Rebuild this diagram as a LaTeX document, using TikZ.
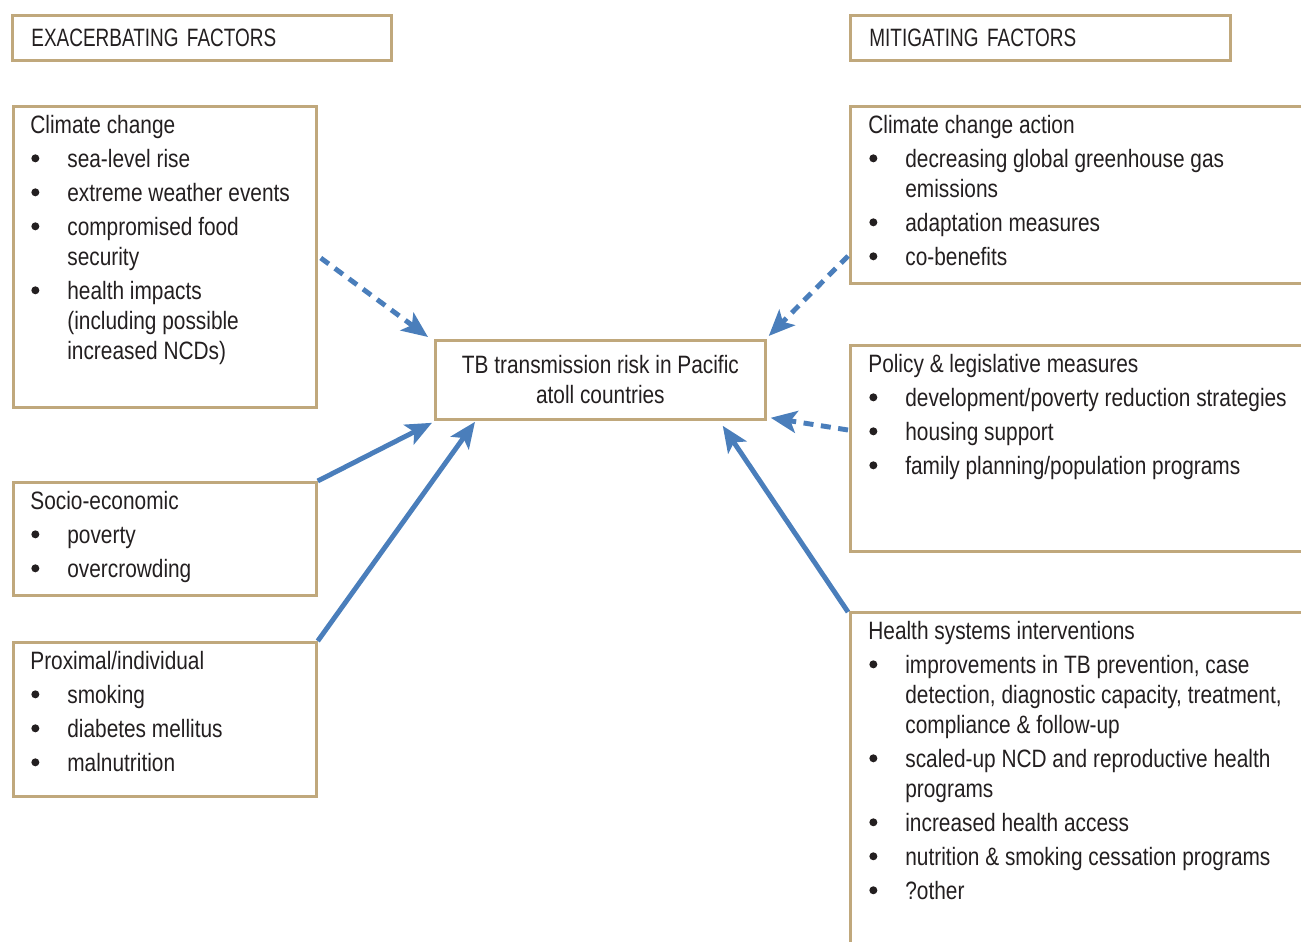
\documentclass[tikz,border=0pt]{standalone}
\usepackage{fontspec}
\setmainfont{Liberation Sans}[FakeStretch=0.83]
\newfontfamily\headfont{Liberation Sans}[FakeStretch=0.755]
\usetikzlibrary{arrows.meta}

\definecolor{boxtan}{RGB}{192,168,124}
\definecolor{arrowblue}{RGB}{74,126,187}
\definecolor{inkgray}{RGB}{35,31,32}

\newcommand{\bdot}{\raisebox{0.1cm}{\tikz\fill[inkgray] (0,0) circle (0.08cm);}}
\newcommand{\itm}{\par\vspace{0.08cm}\noindent\hangindent=0.74cm\hangafter=1\makebox[0.74cm][l]{\hspace{0.02cm}\bdot}}
\newcommand{\boxhead}[1]{\rule{0pt}{0.58cm}#1}

\tikzset{
  factor/.style={draw=boxtan, line width=1.6pt, anchor=north west, inner sep=0pt, text=inkgray,
    font=\fontsize{14.3}{17.07}\selectfont},
  facttext/.style={anchor=north west, inner sep=0pt, text=inkgray,
    font=\fontsize{14.3}{17.07}\selectfont},
  driver/.style={draw=arrowblue, line width=2.8pt, -{Stealth[length=0.52cm,width=0.44cm,inset=0.12cm]}},
  weak/.style={driver, dash pattern=on 0.2cm off 0.15cm}
}

\begin{document}
\begin{tikzpicture}[x=0.02cm, y=-0.02cm]
    \useasboundingbox (0,0) rectangle (1301,942);
    \clip (0,0) rectangle (1301,942);

    % headers
    \node[factor, minimum width=7.58cm, minimum height=0.9cm, text width=6.82cm, inner xsep=0.38cm, align=left, font=\headfont\fontsize{14.3}{17.07}\selectfont] (exac) at (11,14) {EXACERBATING FACTORS};
    \node[factor, minimum width=7.6cm, minimum height=0.9cm, text width=6.84cm, inner xsep=0.38cm, align=left, font=\headfont\fontsize{14.3}{17.07}\selectfont] (miti) at (849,14) {MITIGATING FACTORS};

    % centre
    \node[factor, minimum width=6.6cm, minimum height=1.58cm, align=center] (risk) at (434,339) {TB transmission risk in Pacific\\atoll countries};

    % exacerbating boxes
    \node[factor, minimum width=6.06cm, minimum height=6.02cm] (cc) at (12,105) {};
    \node[factor, minimum width=6.06cm, minimum height=2.26cm] (se) at (12,481) {};
    \node[factor, minimum width=6.06cm, minimum height=3.08cm] (pi) at (12,641) {};

    \node[facttext] (cctext) at ([shift={(18,-1)}]cc.north west) {\parbox[t]{5.4cm}{\raggedright
        \boxhead{Climate change}
        \itm sea-level rise
        \itm extreme weather events
        \itm compromised food\newline security
        \itm health impacts\newline (including possible\newline increased NCDs)}};
    \node[facttext] (setext) at ([shift={(18,-1)}]se.north west) {\parbox[t]{5.4cm}{\raggedright
        \boxhead{Socio-economic}
        \itm poverty
        \itm overcrowding}};
    \node[facttext] (pitext) at ([shift={(18,-1)}]pi.north west) {\parbox[t]{5.4cm}{\raggedright
        \boxhead{Proximal/individual}
        \itm smoking
        \itm diabetes mellitus
        \itm malnutrition}};

    % mitigating boxes
    \node[factor, minimum width=9.6cm, minimum height=3.54cm] (cca) at (849,105) {};
    \node[factor, minimum width=9.6cm, minimum height=4.12cm] (pol) at (849,344) {};
    \node[factor, minimum width=9.6cm, minimum height=8cm] (hs) at (849,611) {};

    \node[facttext] (ccatext) at ([shift={(19,-1)}]cca.north west) {\parbox[t]{8.8cm}{\raggedright
        \boxhead{Climate change action}
        \itm decreasing global greenhouse gas\newline emissions
        \itm adaptation measures
        \itm co-benefits}};
    \node[facttext] (poltext) at ([shift={(19,-1)}]pol.north west) {\parbox[t]{8.8cm}{\raggedright
        \boxhead{Policy \& legislative measures}
        \itm development/poverty reduction strategies
        \itm housing support
        \itm family planning/population programs}};
    \node[facttext] (hstext) at ([shift={(19,-1)}]hs.north west) {\parbox[t]{8.8cm}{\raggedright
        \boxhead{Health systems interventions}
        \itm improvements in TB prevention, case\newline detection, diagnostic capacity, treatment,\newline compliance \& follow-up
        \itm scaled-up NCD and reproductive health\newline programs
        \itm increased health access
        \itm nutrition \& smoking cessation programs
        \itm ?other}};

    % arrows
    \draw[weak] ([shift={(3,153)}]cc.north east) -- ([shift={(-6,-2)}]risk.north west);
    \draw[driver] (se.north east) -- ([shift={(-2,2)}]risk.south west);
    \draw[driver] (pi.north east) -- ([shift={(41,1)}]risk.south west);
    \draw[weak] ([shift={(-1,151)}]cca.north west) -- ([shift={(2,-3)}]risk.north east);
    \draw[weak] ([shift={(-1,86)}]pol.north west) -- ([shift={(4,-3)}]risk.south east);
    \draw[driver] ([shift={(-1,1)}]hs.north west) -- ([shift={(-44,5)}]risk.south east);
\end{tikzpicture}
\end{document}
